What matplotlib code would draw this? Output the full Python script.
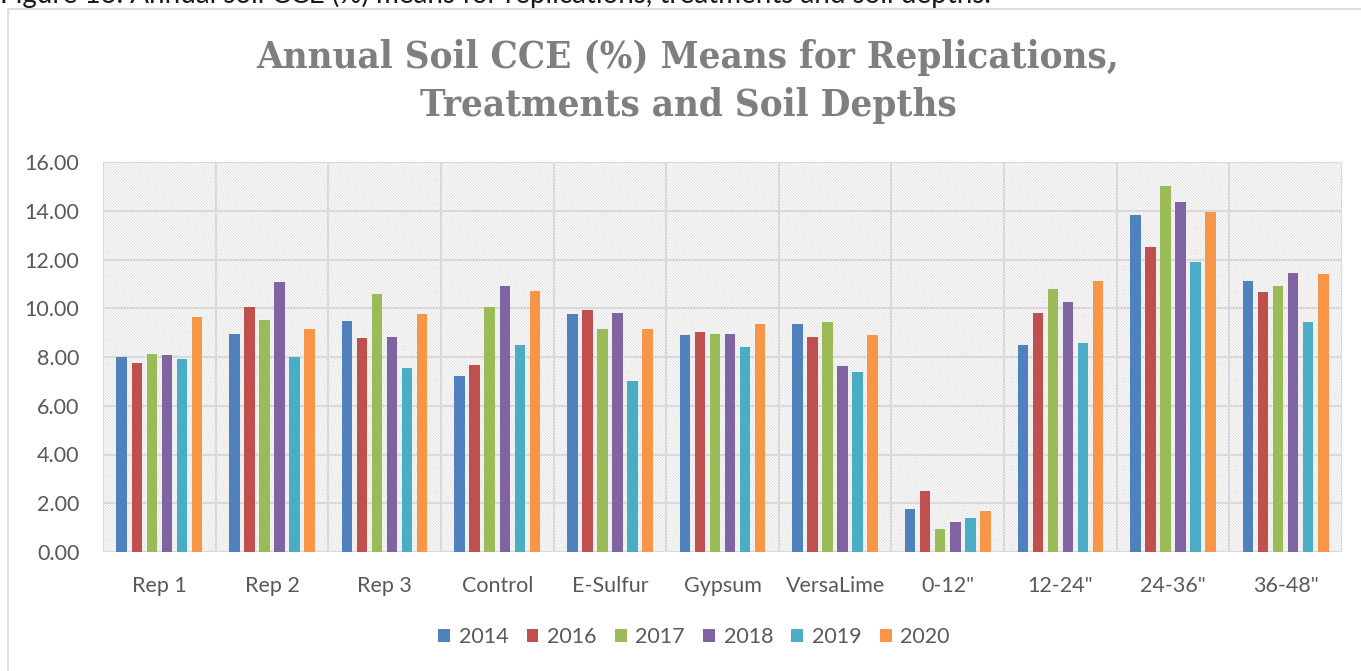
import matplotlib
matplotlib.use("Agg")
import matplotlib.pyplot as plt
import numpy as np
from matplotlib.patches import Rectangle

categories = ["Rep 1", "Rep 2", "Rep 3", "Control", "E-Sulfur", "Gypsum",
              "VersaLime", '0-12"', '12-24"', '24-36"', '36-48"']
years = ["2014", "2016", "2017", "2018", "2019", "2020"]
v2014 = [8.01, 8.95, 9.47, 7.24, 9.75, 8.89, 9.36, 1.78, 8.50, 13.83, 11.13]
v2016 = [7.75, 10.07, 8.78, 7.69, 9.93, 9.02, 8.83, 2.49, 9.82, 12.53, 10.66]
v2017 = [8.11, 9.51, 10.60, 10.07, 9.15, 8.95, 9.44, 0.94, 10.79, 15.01, 10.92]
v2018 = [8.09, 11.07, 8.83, 10.93, 9.81, 8.95, 7.62, 1.24, 10.26, 14.37, 11.46]
v2019 = [7.91, 8.01, 7.55, 8.48, 7.02, 8.40, 7.38, 1.39, 8.58, 11.90, 9.43]
v2020 = [9.64, 9.15, 9.77, 10.71, 9.15, 9.34, 8.89, 1.68, 11.12, 13.95, 11.39]
series = [v2014, v2016, v2017, v2018, v2019, v2020]
colors = ["#4f81bd", "#c0504d", "#9bbb59", "#8064a2", "#4bacc6", "#f79646"]
yticks = [0, 2, 4, 6, 8, 10, 12, 14, 16]

W, H = 1361, 671
fig = plt.figure(figsize=(W / 100, H / 100), dpi=100)
plt.rcParams['hatch.linewidth'] = 0.7
plt.rcParams['hatch.color'] = '#e0e0e0'

# chart border
fig.patches.append(Rectangle((8 / W, -0.1), (W + 10) / W, 1 - 9 / H + 0.1,
                             transform=fig.transFigure, fill=False,
                             edgecolor='#d9d9d9', linewidth=1.2))

# caption at top (cut off in the source document)
fig.text(0.0 / W, 1 - 3 / H,
         "Figure 13. Annual soil CCE (%) means for replications, treatments and soil depths.",
         fontsize=20, family='Lato', color='#1a1a1a', ha='left', va='baseline')

left, right, top, bottom = 103, 1342, 162, 552
ax = fig.add_axes([left / W, 1 - bottom / H, (right - left) / W, (bottom - top) / H])
n = len(categories)
ax.set_xlim(0, n)
ax.set_ylim(0, 16)

# hatched background
ax.add_patch(Rectangle((0, 0), 1, 1, transform=ax.transAxes, facecolor='white',
                       edgecolor='#e0e0e0', hatch='\\' * 11, linewidth=0, zorder=0))

pitch = 0.1335
bw = 0.093
x = np.arange(n) + 0.5
for i, (vals, c, yr) in enumerate(zip(series, colors, years)):
    ax.bar(x + (i - 2.5) * pitch, vals, width=bw, color=c, label=yr, zorder=3)

ax.set_yticks(yticks)
ax.set_yticklabels([f"{t:.2f}" for t in yticks])
ax.set_xticks(x)
ax.set_xticklabels(categories)
for t in ax.get_xticklabels() + ax.get_yticklabels():
    t.set_fontfamily('Lato')
    t.set_fontsize(15.5)
    t.set_color('#595959')
ax.tick_params(axis='both', length=0)
ax.tick_params(axis='y', pad=17)
ax.tick_params(axis='x', pad=17)
for yv in yticks:
    ax.axhline(yv, color='#d9d9d9', linewidth=1.5, zorder=1)
for xv in range(n + 1):
    ax.axvline(xv, color='#d9d9d9', linewidth=1.5, zorder=1)
for s in ax.spines.values():
    s.set_visible(False)

title_kw = dict(ha='center', va='center', fontsize=27.5, fontweight='bold',
                family='DejaVu Serif', fontstretch='condensed', color='#7f7f7f')
fig.text(688 / W, 1 - 58 / H, "Annual Soil CCE (%) Means for Replications,", **title_kw)
fig.text(688 / W, 1 - 106 / H, "Treatments and Soil Depths", **title_kw)

leg = fig.legend(loc='center', bbox_to_anchor=(694 / W, 1 - 637 / H), ncol=6,
                 frameon=False, prop={'family': 'Lato', 'size': 15.5},
                 handlelength=0.55, handleheight=0.55, handletextpad=0.4,
                 columnspacing=0.85)
for t in leg.get_texts():
    t.set_color('#595959')

fig.savefig("out.png", dpi=100)
